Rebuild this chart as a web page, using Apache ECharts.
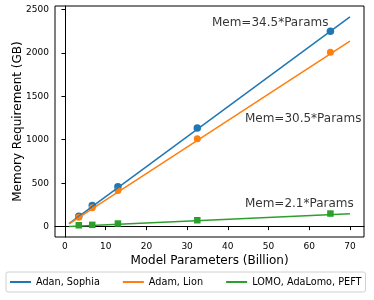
<!DOCTYPE html>
<html>
<head>
<meta charset="utf-8">
<script src="https://cdn.jsdelivr.net/npm/echarts@6/dist/echarts.min.js"></script>
<style>html,body{margin:0;padding:0;background:#fff}#c{width:374px;height:300px}</style>
</head>
<body>
<div id="c"></div>
<script>
// Data
const params = [3.4, 6.7, 13, 32.5, 65.2];
const memAdan = [119, 242, 458, 1134, 2250];
const memAdam = [107, 216, 416, 1010, 2007];
const memLomo = [15, 20, 35, 73, 150];
const fitX = [1, 70];
const fitAdan = [34.5, 2415];
const fitAdam = [30.5, 2135];
const fitLomo = [2.1, 147];
const seriesNames = ['Adan, Sophia', 'Adam, Lion', 'LOMO, AdaLomo, PEFT'];
const annText = ['Mem=34.5*Params', 'Mem=30.5*Params', 'Mem=2.1*Params'];
const annX = [36.1, 44.2, 44.2];
const annY = [2350, 1243, 267];
const xTicks = [0, 10, 20, 30, 40, 50, 60, 70];
const yTicks = [0, 500, 1000, 1500, 2000, 2500];

const colors = ['#1f77b4', '#ff7f0e', '#2ca02c'];
const font = 'DejaVu Sans';
const pts = (xs, ys) => xs.map((x, i) => [x, ys[i]]);

const chart = echarts.init(document.getElementById('c'), null, {renderer: 'canvas'});
chart.setOption({
  animation: false,
  textStyle: {fontFamily: font},
  grid: {left: 55, right: 10, top: 6, bottom: 63, containLabel: false, outerBoundsMode: 'none', show: true, borderColor: '#000', borderWidth: 1, backgroundColor: 'transparent'},
  legend: {
    data: seriesNames,
    left: 6, top: 272,
    padding: [5, 4, 5, 4],
    itemWidth: 21, itemHeight: 2, itemGap: 23,
    icon: 'rect',
    borderColor: '#d0d0d0', borderWidth: 1, borderRadius: 2,
    textStyle: {fontFamily: font, fontSize: 9.7, color: '#000'}
  },
  xAxis: {
    type: 'value', min: -2.45, max: 73.45,
    name: 'Model Parameters (Billion)', nameLocation: 'middle', nameGap: 18, nameMoveOverlap: false,
    nameTextStyle: {fontFamily: font, fontSize: 12, color: '#000'},
    axisLine: {show: true, lineStyle: {color: '#000', width: 1}},
    axisTick: {show: true, length: 3.5, customValues: xTicks, lineStyle: {color: '#000'}},
    axisLabel: {customValues: xTicks, formatter: v => String(v), fontFamily: font, fontSize: 9, color: '#000', margin: 5},
    splitLine: {show: false}
  },
  yAxis: {
    type: 'value', min: -120, max: 2540,
    name: 'Memory Requirement (GB)', nameLocation: 'middle', nameGap: 31, nameRotate: 90, nameMoveOverlap: false,
    nameTextStyle: {fontFamily: font, fontSize: 12, color: '#000'},
    axisLine: {show: true, lineStyle: {color: '#000', width: 1}},
    axisTick: {show: true, length: 3.5, customValues: yTicks, lineStyle: {color: '#000'}},
    axisLabel: {customValues: yTicks, formatter: v => String(v), fontFamily: font, fontSize: 9, color: '#000', margin: 6},
    splitLine: {show: false}
  },
  series: [
    {name: seriesNames[0], type: 'line', data: pts(fitX, fitAdan), showSymbol: false, lineStyle: {color: colors[0], width: 1.5}, itemStyle: {color: colors[0]}},
    {name: seriesNames[1], type: 'line', data: pts(fitX, fitAdam), showSymbol: false, lineStyle: {color: colors[1], width: 1.5}, itemStyle: {color: colors[1]}},
    {name: seriesNames[2], type: 'line', data: pts(fitX, fitLomo), showSymbol: false, lineStyle: {color: colors[2], width: 1.5}, itemStyle: {color: colors[2]}},
    {type: 'scatter', data: pts(params, memAdan), symbol: 'circle', symbolSize: 7.5, itemStyle: {color: colors[0], opacity: 1}},
    {type: 'scatter', data: pts(params, memAdam), symbol: 'circle', symbolSize: 7, itemStyle: {color: colors[1], opacity: 1}},
    {type: 'scatter', data: pts(params, memLomo), symbol: 'rect', symbolSize: 6.5, itemStyle: {color: colors[2], opacity: 1}},
    {type: 'scatter', symbolSize: 0, silent: true,
     data: annText.map((t, i) => ({value: [annX[i], annY[i]], name: t})),
     label: {show: true, position: 'right', distance: 0, formatter: p => p.name, fontFamily: font, fontSize: 12, color: '#000'}}
  ]
});
</script>
</body>
</html>
